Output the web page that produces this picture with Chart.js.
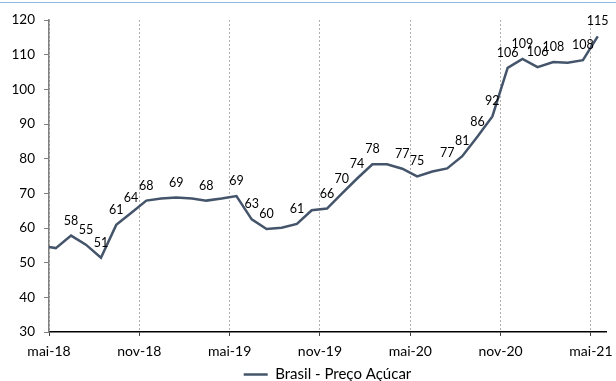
<!DOCTYPE html>
<html>
<head>
<meta charset="utf-8">
<script src="https://cdn.jsdelivr.net/npm/chart.js@4/dist/chart.umd.min.js"></script>
<style>
    body { margin: 0; background: #fff; }
    #wrap { position: relative; width: 616px; height: 381px; }
    #topRule { position: absolute; left: 0; top: 2px; width: 616px; height: 1px; background: #8fb8e0; }
</style>
</head>
<body>
<div id="wrap">
    <canvas id="chartPrecoAcucar" width="616" height="381"></canvas>
    <div id="topRule"></div>
</div>
<script>
// Preço do açúcar no Brasil, observações mensais
const dates = [
    "2018-05-01", "2018-05-15", "2018-06-15", "2018-07-15", "2018-08-15", "2018-09-15", "2018-10-15",
    "2018-11-15", "2018-12-15", "2019-01-15", "2019-02-15", "2019-03-15", "2019-04-15", "2019-05-15",
    "2019-06-15", "2019-07-15", "2019-08-15", "2019-09-15", "2019-10-15", "2019-11-15", "2019-12-15",
    "2020-01-15", "2020-02-15", "2020-03-15", "2020-04-15", "2020-05-15", "2020-06-15", "2020-07-15",
    "2020-08-15", "2020-09-15", "2020-10-15", "2020-11-15", "2020-12-15", "2021-01-15", "2021-02-15",
    "2021-03-15", "2021-04-15", "2021-05-15"
];
const precoAcucar = [
    54.5, 54.2, 57.8, 55.2, 51.4, 60.9, 64.3,
    67.9, 68.5, 68.8, 68.5, 67.9, 68.5, 69.2,
    62.5, 59.7, 60.1, 61.2, 65.1, 65.6, 69.9,
    74.2, 78.4, 78.4, 77.1, 74.9, 76.3, 77.2,
    80.7, 86.4, 92.2, 106.2, 108.8, 106.4, 107.9,
    107.7, 108.4, 115.3
];
// pontos sem rótulo de valor
const semRotulo = [0, 1, 8, 10, 12, 16, 18, 23, 26, 35];
const tickLabels = ["mai-18", "nov-18", "mai-19", "nov-19", "mai-20", "nov-20", "mai-21"];
const seriesName = "Brasil - Preço Açúcar";

const FONT = "Lato, 'Open Sans', sans-serif";
const LINE_COLOR = "#44546a";

// meses desde mai-18 (com fração do mês)
const monthOffset = (iso) => {
    const [y, m, d] = iso.split("-").map(Number);
    const days = new Date(y, m, 0).getDate();
    return (y - 2018) * 12 + (m - 5) + (d - 1) / days;
};

const points = dates.map((d, i) => ({ x: monthOffset(d), y: precoAcucar[i] }));

const valueLabels = {
    id: "valueLabels",
    afterDatasetsDraw(chart) {
        const { ctx } = chart;
        const meta = chart.getDatasetMeta(0);
        ctx.save();
        ctx.font = `12.5px ${FONT}`;
        ctx.fillStyle = "#000";
        ctx.textAlign = "center";
        ctx.textBaseline = "middle";
        meta.data.forEach((pt, i) => {
            if (semRotulo.includes(i)) return;
            ctx.fillText(String(Math.round(precoAcucar[i])), pt.x, pt.y - 15);
        });
        ctx.restore();
    }
};

new Chart("chartPrecoAcucar", {
    type: "line",
    data: {
        datasets: [{
            label: seriesName,
            data: points,
            borderColor: LINE_COLOR,
            backgroundColor: LINE_COLOR,
            borderWidth: 2.5,
            pointRadius: 0,
            tension: 0,
            fill: false
        }]
    },
    options: {
        responsive: false,
        animation: false,
        layout: { padding: { top: 20, right: 10, left: 0, bottom: 0 } },
        plugins: {
            tooltip: { enabled: false },
            legend: {
                position: "bottom",
                fullSize: false,
                maxHeight: 16,
                labels: {
                    usePointStyle: true,
                    pointStyle: "line",
                    pointStyleWidth: 24,
                    color: "#000",
                    padding: 2,
                    font: { family: FONT, size: 15 }
                }
            }
        },
        scales: {
            x: {
                type: "linear",
                min: 0,
                max: 37,
                afterBuildTicks: (scale) => {
                    scale.ticks = tickLabels.map((_, i) => ({ value: i * 6 }));
                },
                afterFit: (scale) => {
                    scale.height = 33;
                    scale.paddingLeft = 0;
                    scale.paddingRight = 0;
                },
                ticks: {
                    autoSkip: false,
                    maxRotation: 0,
                    padding: 7,
                    color: "#000",
                    font: { family: FONT, size: 14 },
                    callback: (v) => tickLabels[Math.round(v / 6)]
                },
                grid: {
                    color: "#b0b0b0",
                    tickColor: "#404040",
                    tickLength: 4,
                    lineWidth: 1
                },
                border: { color: "#000", width: 1.5, dash: [2, 2] }
            },
            y: {
                min: 30,
                max: 120,
                afterFit: (scale) => { scale.width = 49; },
                ticks: {
                    stepSize: 10,
                    padding: 9,
                    color: "#000",
                    font: { family: FONT, size: 13.5 }
                },
                grid: {
                    drawOnChartArea: false,
                    tickColor: "#7f7f7f",
                    tickLength: 5
                },
                border: { color: "#7f7f7f", width: 1.5 }
            }
        }
    },
    plugins: [valueLabels]
});
</script>
</body>
</html>
